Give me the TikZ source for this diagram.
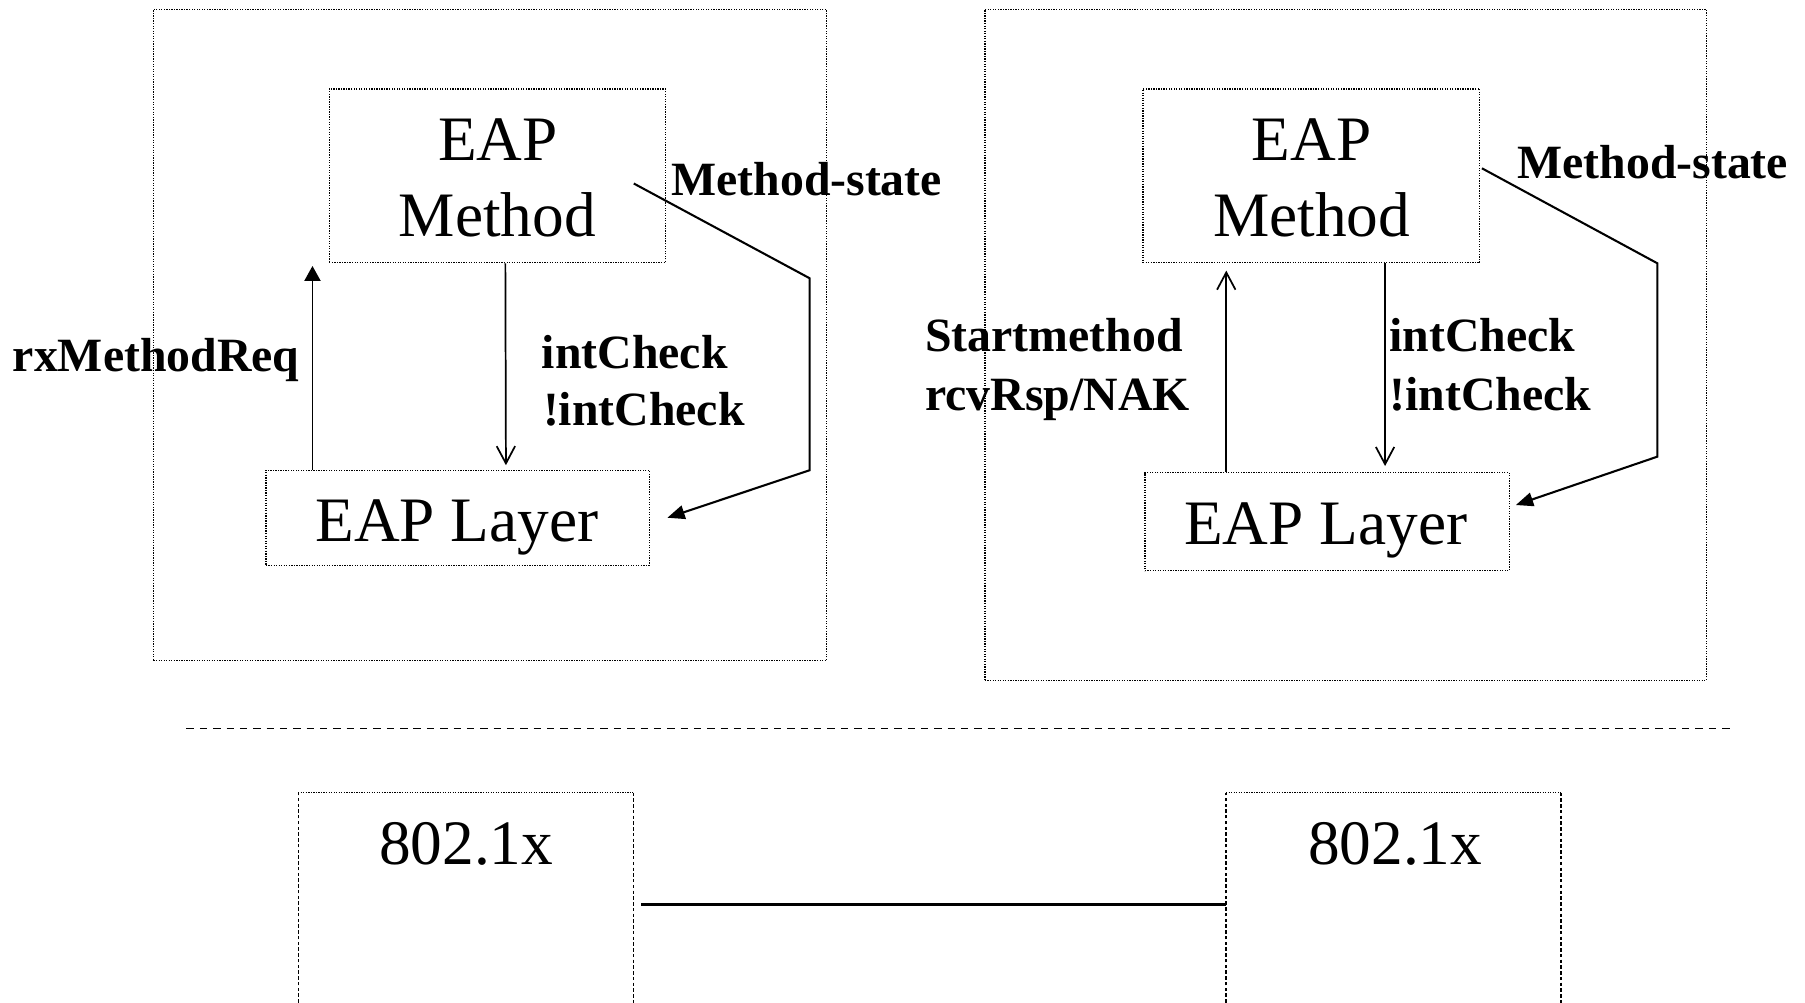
\documentclass[tikz,border=0pt]{standalone}
\usepackage{fontspec}
\setmainfont{Liberation Serif}
\usetikzlibrary{arrows.meta}
\begin{document}
\begin{tikzpicture}[x=1pt,y=-1pt,
  dotbox/.style={draw, line width=1.1pt, dash pattern=on 1.1pt off 1.1pt, inner sep=0pt},
  dotline/.style={line width=1.1pt, dash pattern=on 1.1pt off 1.1pt},
  fineline/.style={line width=1pt, dash pattern=on 3pt off 2pt},
  bigtxt/.style={font=\fontsize{55}{66}\selectfont, inner sep=0pt, anchor=base},
  lbl/.style={font=\fontsize{41.5}{50}\selectfont\bfseries, inner sep=0pt, anchor=base west},
  conn/.style={line width=1.5pt},
  statel/.style={line width=1.8pt, line join=miter},
  filltip/.style={-{Triangle[length=13pt,width=14pt]}},
  statetip/.style={-{Triangle[length=15pt,width=12pt]}},
  opentip/.style={-{Straight Barb[length=15pt,width=16pt]}}
]
\useasboundingbox (0,0) rectangle (1568,871);

% ---------- left group ----------
\node[dotbox, minimum width=584.4pt, minimum height=566pt] (LO) at (425.5,291) {};
\node[dotbox, minimum width=292pt, minimum height=151pt] (LM) at (432,152.7) {};
\node[bigtxt] (LMt1) at (432.5,139.5) {EAP};
\node[bigtxt] (LMt2) at (432,205.6) {Method};
\node[dotbox, minimum width=333pt, minimum height=82.5pt] (LL) at (397.5,449.75) {};
\node[bigtxt] (LLt) at (397,470.3) {EAP Layer};

\draw[conn, filltip] ([xshift=41pt]LL.north west) -- ([xshift=-14pt,yshift=-2.3pt]LM.south west);
\draw[conn, opentip] ([xshift=7pt]LM.south) -- ([xshift=42pt,yshift=3.8pt]LL.north);
\coordinate (Lc1) at (703.3,241.7);
\coordinate (Lc2) at (703.3,408.5);
\draw[statel, statetip] ([xshift=-28pt,yshift=-6.7pt]LM.east) -- (Lc1) -- (Lc2) -- ([xshift=15.2pt]LL.east);

\node[lbl] (Lrx) at (11,322.9) {rxMethodReq};
\node[lbl] (Lic1) at (470.5,320.5) {intCheck};
\node[lbl] (Lic2) at (471.5,370) {!intCheck};
\node[lbl] (Lms) at (583,169.4) {Method-state};

% ---------- right group ----------
\node[dotbox, minimum width=626.5pt, minimum height=583pt] (RO) at (1168.85,299.5) {};
\node[dotbox, minimum width=292.5pt, minimum height=151pt] (RM) at (1139.25,152.7) {};
\node[bigtxt] (RMt1) at (1139.5,139) {EAP};
\node[bigtxt] (RMt2) at (1139.5,205.6) {Method};
\node[dotbox, minimum width=316.4pt, minimum height=85.1pt] (RL) at (1152.8,453.15) {};
\node[bigtxt] (RLt) at (1151.6,473.4) {EAP Layer};

\draw[conn, opentip] ([xshift=71.2pt]RL.north west) -- ([xshift=72.8pt,yshift=-6.3pt]RM.south west);
\draw[conn, opentip] ([xshift=63.95pt]RM.south) -- ([xshift=50.4pt,yshift=5.2pt]RL.north);
\coordinate (Rc1) at (1439.7,228.7);
\coordinate (Rc2) at (1439.7,396.7);
\draw[statel, statetip] ([xshift=1.3pt,yshift=6.5pt]RM.east) -- (Rc1) -- (Rc2) -- ([xshift=5.3pt,yshift=14.45pt]RL.east);

\node[lbl] (Rsm) at (803.5,305.5) {Startmethod};
\node[lbl] (Rrn) at (803.5,356.2) {rcvRsp/NAK};
\node[lbl] (Ric1) at (1207,305.5) {intCheck};
\node[lbl] (Ric2) at (1207,356.2) {!intCheck};
\node[lbl] (Rms) at (1318,154.9) {Method-state};

% ---------- separator ----------
\coordinate (sepA) at (162,632.7);
\coordinate (sepB) at (1505,632.7);
\draw[line width=1.4pt, dash pattern=on 6.4pt off 5.2pt] (sepA) -- (sepB);

% ---------- 802.1x boxes ----------
\coordinate (B1bl) at (259,871);
\coordinate (B1tl) at (259,688.6);
\coordinate (B1tr) at (550,688.6);
\coordinate (B1br) at (550,871);
\draw[fineline] (B1bl) -- (B1tl);
\draw[dotline] (B1tl) -- (B1tr);
\draw[fineline] (B1tr) -- (B1br);
\node[bigtxt] (B1t) at (405,751.4) {802.1x};

\coordinate (B2bl) at (1065,871);
\coordinate (B2tl) at (1065,688.6);
\coordinate (B2tr) at (1356,688.6);
\coordinate (B2br) at (1356,871);
\draw[fineline] (B2bl) -- (B2tl);
\draw[dotline] (B2tl) -- (B2tr);
\draw[fineline] (B2tr) -- (B2br);
\node[bigtxt] (B2t) at (1212,751.4) {802.1x};

\coordinate (linkA) at (557,785.6);
\coordinate (linkB) at (1065,785.6);
\draw[line width=2.2pt] (linkA) -- (linkB);
\end{tikzpicture}
\end{document}
